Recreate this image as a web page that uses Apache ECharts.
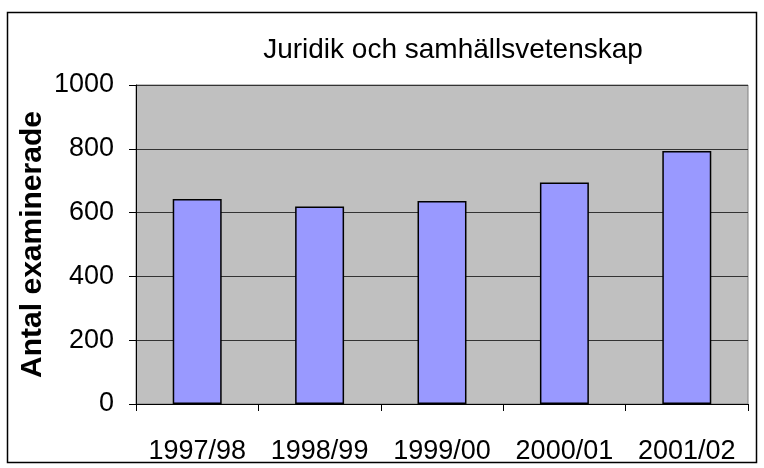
<!DOCTYPE html>
<html>
<head>
<meta charset="utf-8">
<script src="https://cdn.jsdelivr.net/npm/echarts@6/dist/echarts.min.js"></script>
<style>
  html, body { margin: 0; padding: 0; background: #fff; }
  #chart { width: 764px; height: 468px; }
</style>
</head>
<body>
<div id="chart"></div>
<script>
const years = ['1997/98', '1998/99', '1999/00', '2000/01', '2001/02']
const examined = [643, 619, 636, 694, 793]
const yTicks = [0, 200, 400, 600, 800, 1000]

const chart = echarts.init(document.getElementById('chart'))
const font = "'Liberation Sans', Arial, sans-serif"

chart.setOption({
  animation: false,
  title: {
    text: 'Juridik och samhällsvetenskap',
    left: 448,
    top: 31,
    textAlign: 'center',
    textStyle: { fontFamily: font, fontSize: 28, fontWeight: 'normal', color: '#000' }
  },
  graphic: [{
    type: 'rect',
    shape: { x: 7.5, y: 12.5, width: 749, height: 450 },
    style: { fill: 'none', stroke: '#000', lineWidth: 1.5 },
    z: -1
  }],
  grid: {
    left: 136, right: 16, top: 85, bottom: 64,
    show: true,
    backgroundColor: '#C0C0C0',
    borderColor: '#808080',
    borderWidth: 1
  },
  xAxis: {
    type: 'category',
    data: years,
    axisLine: { lineStyle: { color: '#000', width: 1 } },
    axisTick: { show: true, length: 7, lineStyle: { color: '#000' } },
    axisLabel: { fontFamily: font, fontSize: 27, color: '#000', margin: 34, interval: 0, hideOverlap: false }
  },
  yAxis: {
    type: 'value',
    min: yTicks[0],
    max: yTicks[yTicks.length - 1],
    interval: 200,
    name: 'Antal examinerade',
    nameLocation: 'middle',
    nameGap: 88,
    nameMoveOverlap: false,
    nameTextStyle: { fontFamily: font, fontSize: 30, fontWeight: 'bold', color: '#000' },
    axisLine: { show: true, lineStyle: { color: '#000', width: 1 } },
    axisTick: { show: true, length: 7, lineStyle: { color: '#000' } },
    axisLabel: {
      fontFamily: font, fontSize: 27, color: '#000', margin: 22,
      formatter: v => String(v)
    },
    splitLine: { show: true, lineStyle: { color: '#333', width: 1 } }
  },
  series: [{
    type: 'bar',
    data: examined,
    barWidth: '40%',
    itemStyle: { color: '#9999FF', borderColor: '#000', borderWidth: 1.5 }
  }]
})
</script>
</body>
</html>
